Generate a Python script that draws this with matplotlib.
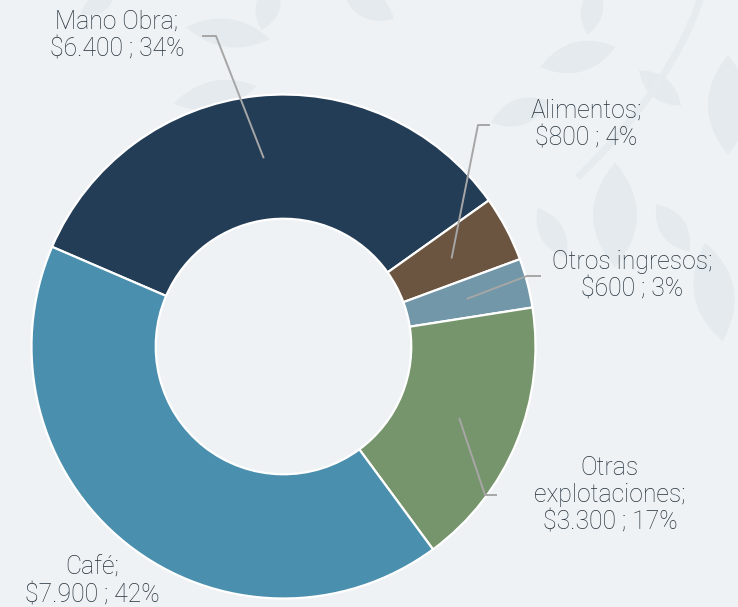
import matplotlib
matplotlib.use('Agg')
import matplotlib.pyplot as plt
import numpy as np

# datos
categorias = ['Mano Obra', 'Alimentos', 'Otros ingresos', 'Otras explotaciones', 'Café']
nombres = ['Mano Obra;', 'Alimentos;', 'Otros ingresos;', 'Otras\nexplotaciones;', 'Café;']
valores = [6400, 800, 600, 3300, 7900]
colores = ['#233d56', '#6b5540', '#7197a8', '#77956c', '#4b8fae']

W, H = 738, 607
CX, CY, R = 283.5, 346.5, 252.0
FONDO = '#eef2f5'

# posicion de etiquetas (px): centro del texto, codo y final de la guia
etq_texto = [(117, 35.5), (586, 124.5), (632, 275.5), (610, 495), (92, 581.5)]
etq_codo = [(216, 36), (478, 125), (527, 276), (485, 495), None]
etq_fin = [(203, 36), (489, 125), (540, 276), (496, 495), None]

# hojas decorativas del fondo (px): x, y, largo, ancho, angulo
hojas = [(228, 33, 85, 28, 8), (215, 95, 85, 28, -12), (98, 4, 40, 18, -30),
         (268, 6, 50, 24, -75), (368, 4, 60, 28, 30), (578, 57, 78, 30, -15),
         (592, 10, 50, 22, -80), (520, 112, 62, 26, -20), (615, 215, 105, 44, 90),
         (552, 233, 58, 24, 60), (673, 228, 58, 26, 55), (728, 105, 100, 40, 90),
         (714, 292, 100, 40, 80), (660, 88, 55, 22, 40)]


def px2d(p):
    return ((p[0] - CX) / R, (CY - p[1]) / R)


fig = plt.figure(figsize=(W / 100, H / 100), dpi=100, facecolor=FONDO)

# fondo con hojas
bg = fig.add_axes([0, 0, 1, 1])
bg.set_xlim(0, W)
bg.set_ylim(H, 0)
bg.axis('off')
t = np.linspace(-1, 1, 60)
for x, y, L, A, ang in hojas:
    xs = np.concatenate([t, t[::-1]]) * L / 2
    ys = np.concatenate([(1 - t ** 2), -(1 - t[::-1] ** 2)]) * A / 2
    a = np.deg2rad(ang)
    bg.fill(x + xs * np.cos(a) - ys * np.sin(a), y + xs * np.sin(a) + ys * np.cos(a),
            color='#e4eaee', lw=0)
tt = np.linspace(0, 1, 50)
bg.plot(700 - 60 * tt - 60 * tt ** 2, 175 * tt, color='#e5ebef', lw=5)

ax = fig.add_axes([0, 0, 1, 1])
ax.patch.set_alpha(0)
wedges, _ = ax.pie(valores, colors=colores, startangle=156.7, counterclock=False,
                   radius=1.0, wedgeprops=dict(width=0.493, edgecolor='white', linewidth=1.6))
ax.set_aspect('auto')
ax.set_xlim(-CX / R, (W - CX) / R)
ax.set_ylim(-(H - CY) / R, CY / R)
ax.axis('off')

total = sum(valores)
for i, w in enumerate(wedges):
    v = valores[i]
    texto = nombres[i] + '\n$' + f'{v:,.0f}'.replace(',', '.') + f' ; {round(100 * v / total)}%'
    tx, ty = px2d(etq_texto[i])
    ax.text(tx, ty, texto, ha='center', va='center', fontsize=17.8, color='#25313c',
            family=['Roboto', 'DejaVu Sans'], fontweight='light', linespacing=1.17)
    if etq_codo[i] is not None:
        mid = np.deg2rad((w.theta1 + w.theta2) / 2)
        x0, y0 = 0.755 * np.cos(mid), 0.755 * np.sin(mid)
        xc, yc = px2d(etq_codo[i])
        xf, yf = px2d(etq_fin[i])
        ax.plot([x0, xc, xf], [y0, yc, yf], color='#a6a6a6', lw=1.4)

fig.savefig('out.png', dpi=100, facecolor=FONDO)
